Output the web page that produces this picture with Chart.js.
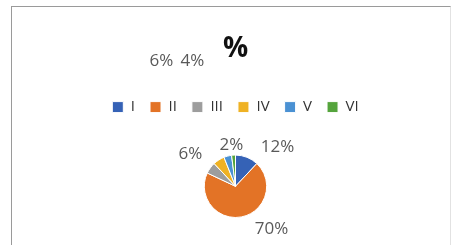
<!DOCTYPE html>
<html>
<head>
<meta charset="utf-8">
<script src="https://cdn.jsdelivr.net/npm/chart.js@4/dist/chart.umd.min.js"></script>
<style>
  body { margin: 0; background: #fff; }
  #frame {
    position: absolute; left: 11px; top: 6px; width: 438px; height: 245px;
    border-left: 1px solid #9a9a9a; border-top: 1px solid #9a9a9a; border-right: 1px solid #e2e2e2;
  }
  #wrap { position: absolute; left: 0; top: 0; width: 451px; height: 245px; }
</style>
</head>
<body>
<div id="frame"></div>
<div id="wrap"><canvas id="pieChart" width="451" height="245"></canvas></div>
<script>
// datos del gráfico
const categories = ["I", "II", "III", "IV", "V", "VI"];
const values = [12, 70, 6, 6, 4, 2];
const colors = ["#3562b6", "#e37326", "#9d9d9d", "#efb224", "#4a91d3", "#55a43c"];

// desplazamiento de cada etiqueta respecto al centro del pastel (estilo)
const labelOffsets = [[42, -39], [36, 43], [-45, -32], [-74, -125], [-43, -125], [-4, -41]];

// etiquetas de porcentaje
const pctLabels = {
  id: "pctLabels",
  afterDatasetsDraw(chart) {
    const ctx = chart.ctx;
    const arcs = chart.getDatasetMeta(0).data;
    ctx.save();
    ctx.font = "17px 'Open Sans'";
    ctx.fillStyle = "#595959";
    ctx.textAlign = "center";
    ctx.textBaseline = "middle";
    arcs.forEach((arc, i) => {
      const off = labelOffsets[i];
      ctx.fillText(values[i] + "%", arc.x + off[0], arc.y + off[1]);
    });
    ctx.restore();
  }
};

// espacio extra debajo de la leyenda
const legendSpace = {
  id: "legendSpace",
  beforeInit(chart) {
    const fit = chart.legend.fit;
    chart.legend.fit = function () {
      fit.bind(chart.legend)();
      this.height += 30;
    };
  }
};

new Chart(document.getElementById("pieChart").getContext("2d"), {
  type: "pie",
  data: {
    labels: categories,
    datasets: [{
      data: values,
      backgroundColor: colors,
      borderColor: "#ffffff",
      borderWidth: 1
    }]
  },
  options: {
    responsive: false,
    animation: false,
    layout: { padding: { left: 20, right: 0, top: 0, bottom: 27 } },
    plugins: {
      title: {
        display: true,
        text: "%",
        color: "#111111",
        font: { size: 28, weight: "bold", family: "'Open Sans'" },
        padding: { top: 32, bottom: 19 }
      },
      legend: {
        position: "top",
        labels: {
          boxWidth: 11,
          boxHeight: 11,
          padding: 15,
          color: "#333333",
          font: { size: 15, family: "'Open Sans'" }
        }
      },
      tooltip: { enabled: false }
    }
  },
  plugins: [pctLabels, legendSpace]
});
</script>
</body>
</html>
